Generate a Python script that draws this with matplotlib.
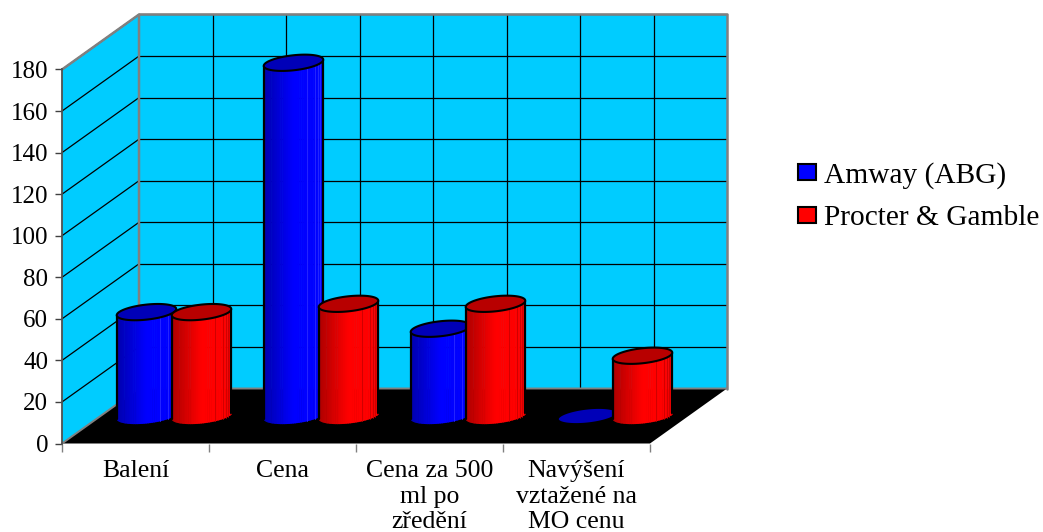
import numpy as np
import matplotlib
matplotlib.use("Agg")
import matplotlib.pyplot as plt
from matplotlib.patches import Patch

plt.rcParams["font.family"] = ["Liberation Serif", "DejaVu Serif"]

# Chart data
categories = ["Balení", "Cena", "Cena za 500\nml po\nzředění", "Navýšení\nvztažené na\nMO cenu"]
series_names = ["Amway (ABG)", "Procter & Gamble"]
amway_values = [50, 170, 42, 0]
procter_values = [50, 54, 54, 29]
y_ticks = list(range(0, 200, 20))

W, H = 1043, 532
GRAY = "#808080"
WALL = "#00ccff"

fig = plt.figure(figsize=(W / 100, H / 100), dpi=100, facecolor="white")
# Front plane of the 3D box: x in category units, y in value units
ax = fig.add_axes([62 / W, 1 - 443.5 / H, 588 / W, 374 / H])
ax.set_xlim(0, 4)
ax.set_ylim(0, 180)
ax.patch.set_visible(False)

# Oblique depth vector, in data units
DX = 77 / 147
DY = 55 / (374 / 180)


def fill(xs, ys, **kw):
    ax.fill(xs, ys, clip_on=False, **kw)


def line(xs, ys, **kw):
    ax.plot(xs, ys, clip_on=False, solid_capstyle="round", **kw)


# Walls and floor
fill([DX, 4 + DX, 4 + DX, DX], [DY, DY, 180 + DY, 180 + DY], color=WALL, lw=0, zorder=1)
fill([0, DX, DX, 0], [0, DY, 180 + DY, 180], color=WALL, lw=0, zorder=1)
fill([0, 4, 4 + DX, DX], [0, 0, DY, DY], color="black", lw=0, zorder=2)

# Grid on the back and side walls
for v in y_ticks[1:]:
    line([DX, 4 + DX], [v + DY, v + DY], color="#000000", lw=0.9, zorder=1.5)
    line([0, DX], [v, v + DY], color="#000000", lw=0.9, zorder=1.5)
for k in range(1, 8):
    line([DX + k / 2, DX + k / 2], [DY, 180 + DY], color="#000000", lw=0.9, zorder=1.5)

# Wall borders
line([DX, 4 + DX, 4 + DX], [180 + DY, 180 + DY, DY], color=GRAY, lw=1.8, zorder=1.6)
line([0, DX, DX], [180, 180 + DY, DY], color=GRAY, lw=1.8, zorder=1.6)
line([0, DX, 4 + DX], [0, DY, DY], color=GRAY, lw=1.4, zorder=2.5)


def shade(rgb, b):
    return tuple(c * b for c in rgb)


def cylinder(center, value, rgb, stripe, zorder):
    half_x = 0.187
    half_d = 0.148
    depth = 0.5
    t_ext = np.arctan2(half_d * DX, half_x)

    def rim(t, v):
        return (center + depth * DX + half_x * np.cos(t) + half_d * DX * np.sin(t),
                v + depth * DY + half_d * DY * np.sin(t))

    edges = np.linspace(t_ext - np.pi, t_ext, 49)
    xl = rim(edges[0], 0)[0]
    xr = rim(edges[-1], 0)[0]
    if value > 0:
        for t0, t1 in zip(edges[:-1], edges[1:]):
            x0, y0 = rim(t0, 0)
            x1, y1 = rim(t1, 0)
            _, top0 = rim(t0, value)
            _, top1 = rim(t1, value)
            u = ((x0 + x1) / 2 - xl) / (xr - xl)
            b = min(1.0, 0.68 + 0.32 * u / 0.5)
            c = shade(rgb, b)
            # Facets overlap slightly so no background shows through the seams
            x1b = x1 + 0.004
            fill([x0, x1b, x1b, x0], [y0, y1, top1, top0], color=c, lw=0, zorder=zorder)
        # Thin facet seams on the lit side
        for i in (31, 36, 39, 41, 43, 45):
            x, y = rim(edges[i], 0)
            _, top = rim(edges[i], value)
            line([x, x], [y, top], color=stripe, lw=0.6, zorder=zorder + 0.01)
        # Silhouette
        for t in (edges[0], edges[-1]):
            x, y = rim(t, 0)
            _, top = rim(t, value)
            line([x, x], [y, top], color="black", lw=1.6, zorder=zorder + 0.02)
    ts = np.linspace(0, 2 * np.pi, 120)
    ex, ey = rim(ts, value)
    fill(ex, ey, facecolor=shade(rgb, 0.72), edgecolor="black", lw=1.5, zorder=zorder + 0.03)


BLUE = (0, 0, 1)
RED = (1, 0, 0)
offset = 27.5 / 147
for i, (a, p) in enumerate(zip(amway_values, procter_values)):
    cylinder(i + 0.5 - offset, a, BLUE, "#2a2aff", 3 + i)
    cylinder(i + 0.5 + offset, p, RED, "#c80000", 3.5 + i)

# Axes furniture
for s in ("top", "right", "bottom"):
    ax.spines[s].set_visible(False)
ax.spines["left"].set_color("#505050")
ax.spines["left"].set_linewidth(1.3)
ax.spines["left"].set_zorder(2.6)

ax.set_yticks(y_ticks)
ax.tick_params(axis="y", length=5, width=1, color="#404040", pad=5, labelsize=18)
ax.set_xticks(range(5))
ax.set_xticklabels([""] * 5)
ax.tick_params(axis="x", which="major", length=6, width=1, color=GRAY)
ax.set_xticks([i + 0.5 for i in range(4)], minor=True)
ax.set_xticklabels(categories, minor=True, fontsize=18.5, linespacing=1.2)
ax.tick_params(axis="x", which="minor", length=0, pad=12)

# Legend
handles = [Patch(facecolor="#0000ff", edgecolor="black", lw=1.5),
           Patch(facecolor="#ff0000", edgecolor="black", lw=1.5)]
fig.legend(handles, series_names, loc="upper left", bbox_to_anchor=(798 / W, 1 - 162 / H),
           frameon=False, fontsize=21.2, handlelength=0.62, handleheight=0.48,
           handletextpad=0.28, labelspacing=0.56, borderaxespad=0, borderpad=0)

fig.savefig("out.png", dpi=100)
